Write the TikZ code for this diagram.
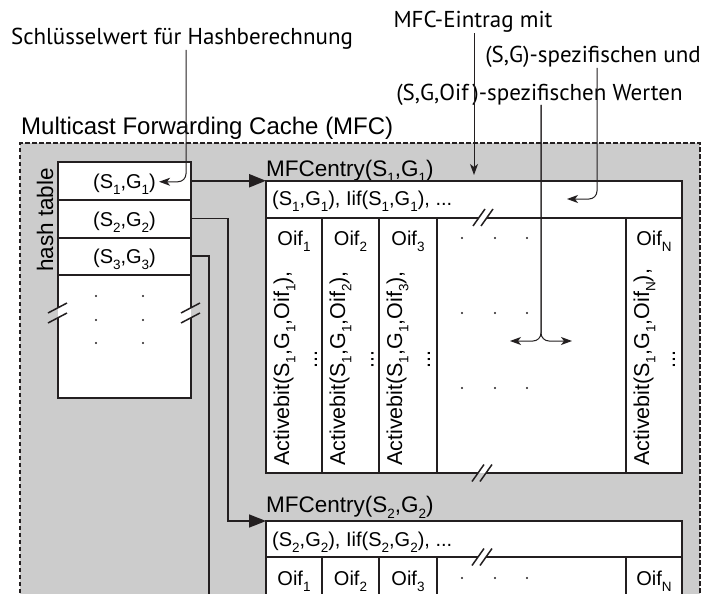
\documentclass[tikz,border=0pt]{standalone}
\usepackage{fontspec}
\setmainfont{Liberation Sans}
\newfontfamily\annfont{PT Sans}
\usetikzlibrary{arrows.meta}
\definecolor{ln}{HTML}{231F20}
\definecolor{bgc}{HTML}{CCCCCC}
\newcommand\sbs[1]{\raisebox{-0.3em}{\fontsize{13.5}{13.5}\selectfont #1}}
\newcommand\brkh[2]{%
  \draw[brk] (#1-10,#2+8.5) -- (#1+2,#2-8.5);
  \draw[brk] (#1-2,#2+8.5) -- (#1+10,#2-8.5);}
\newcommand\brkv[2]{%
  \draw[brk] (#1-9.5,#2) -- (#1+9.5,#2-10);
  \draw[brk] (#1-9.5,#2+10) -- (#1+9.5,#2);}
\begin{document}
\begin{tikzpicture}[x=1pt,y=-1pt,
  edge/.style={draw=ln, line width=2pt},
  box/.style={draw=ln, line width=2pt, fill=white, inner sep=0pt, outer sep=0pt, anchor=north west},
  panel/.style={fill=white, inner sep=0pt, outer sep=0pt, anchor=north west},
  txt/.style={inner sep=0pt, font=\fontsize{20}{24}\selectfont},
  big/.style={inner sep=0pt, font=\fontsize{22.5}{27}\selectfont},
  ann/.style={inner sep=0pt, font=\annfont\fontsize{23}{27}\selectfont},
  conn/.style={draw=ln, line width=1.7pt},
  bigarrow/.style={-{Triangle[length=17pt,width=13pt]}},
  thin/.style={draw=ln, line width=1pt},
  thinarrow/.style={-{Stealth[length=11pt,width=8pt,inset=3pt]}},
  brk/.style={draw=ln, line width=1.5pt},
  rot/.style={inner sep=0pt, font=\fontsize{21.5}{25}\selectfont, rotate=90, anchor=base west},
  dot/.style={fill=ln}
]
\useasboundingbox (0,0) rectangle (710,594);
\clip (0,0) rectangle (710,594);
% MFC area
\fill[bgc] (20,143) rectangle (700,600);
\draw[ln, line width=2.3pt, dash pattern=on 4.5pt off 2.5pt] (20,600) -- (20,143) -- (700,143) -- (700,600);
\node[big, font=\fontsize{24}{28}\selectfont, anchor=base west] (title) at (21,135) {Multicast Forwarding Cache (MFC)};

% annotation texts
\node[ann, anchor=base] (ann1) at (182,45) {Schlüsselwert für Hashberechnung};
\node[ann, anchor=base] (ann2) at (473,28) {MFC-Eintrag mit};
\node[ann, anchor=base] (ann3) at (593,63) {(S,G)-spezifischen und};
\node[ann, anchor=base] (ann4) at (539.5,100) {(S,G,Oif\,)-spezifischen Werten};

% hash table
\node[big, rotate=90, anchor=base west] (htl) at (53,272) {hash table};
\node[panel, minimum width=133pt, minimum height=123.5pt] (hrest) at (58,274.5) {};
\node[box, minimum width=133pt, minimum height=37.5pt] (h1) at (58,162) {};
\node[box, minimum width=133pt, minimum height=38pt] (h2) at (58,199.5) {};
\node[box, minimum width=133pt, minimum height=37pt] (h3) at (58,237.5) {};
\draw[edge] (hrest.north west) -- (58,308);
\draw[edge] (58,318) |- (hrest.south east) -- (191,318);
\draw[edge] (191,308) -- (hrest.north east);
\brkv{57.5}{313}
\brkv{190.5}{313}
\node[txt, anchor=base, inner sep=3pt] (h1t) at (124.5,188) {(S\sbs{1},G\sbs{1})};
\node[txt, anchor=base] (h2t) at (124.5,226) {(S\sbs{2},G\sbs{2})};
\node[txt, anchor=base] (h3t) at (124.5,263) {(S\sbs{3},G\sbs{3})};
\foreach \x in {96,143}
  \foreach \y in {296,320,343}
    \fill[dot] (\x,\y) circle (1.1pt);

% MFC entry 1
\node[big, anchor=base west] (m1l) at (266,176) {MFCentry(S\sbs{1},G\sbs{1})};
\node[panel, minimum width=416pt, minimum height=292pt] (m1) at (266,181) {};
\draw[edge] (478,473) -- (m1.south west) -- (m1.north west) -- (m1.north east) -- (m1.south east) -- (486,473);
\draw[edge] (266,217.5) -- (479,217.5);
\draw[edge] (487,217.5) -- (682,217.5);
\foreach \x in {322,379,437,626}
  \draw[edge] (\x,217.5) -- (\x,473);
\brkh{483}{217.5}
\brkh{482}{473}
\node[txt, anchor=base west] (m1h) at (272,205) {(S\sbs{1},G\sbs{1}), Iif(S\sbs{1},G\sbs{1}), ...};
\node[txt, anchor=base] (m1o1) at (294,245) {Oif\sbs{1}};
\node[txt, anchor=base] (m1o2) at (350.5,245) {Oif\sbs{2}};
\node[txt, anchor=base] (m1o3) at (408,245) {Oif\sbs{3}};
\node[txt, anchor=base] (m1oN) at (654,245) {Oif\sbs{N}};
\node[rot] (m1a1) at (289,466) {Activebit(S\sbs{1},G\sbs{1},Oif\sbs{1}),};
\node[rot] (m1a2) at (345,466) {Activebit(S\sbs{1},G\sbs{1},Oif\sbs{2}),};
\node[rot] (m1a3) at (402,466) {Activebit(S\sbs{1},G\sbs{1},Oif\sbs{3}),};
\node[rot] (m1aN) at (649,466) {Activebit(S\sbs{1},G\sbs{1},Oif\sbs{N}),};
\node[rot] (m1d1) at (317,369) {...};
\node[rot] (m1d2) at (373.5,369) {...};
\node[rot] (m1d3) at (430,369) {...};
\node[rot] (m1dN) at (675,369) {...};
\foreach \x in {462,495,527}
  \foreach \y in {238,313,388}
    \fill[dot] (\x,\y) circle (1.1pt);

% MFC entry 2
\node[big, anchor=base west] (m2l) at (266,512) {MFCentry(S\sbs{2},G\sbs{2})};
\node[panel, minimum width=416pt, minimum height=80pt] (m2) at (266,521) {};
\draw[edge] (m2.south west) -- (m2.north west) -- (m2.north east) -- (m2.south east);
\draw[edge] (266,557) -- (478,557);
\draw[edge] (486,557) -- (682,557);
\foreach \x in {322,379,437,626}
  \draw[edge] (\x,557) -- (\x,601);
\brkh{482}{557}
\node[txt, anchor=base west] (m2h) at (272,546) {(S\sbs{2},G\sbs{2}), Iif(S\sbs{2},G\sbs{2}), ...};
\node[txt, anchor=base] (m2o1) at (294,585) {Oif\sbs{1}};
\node[txt, anchor=base] (m2o2) at (350.5,585) {Oif\sbs{2}};
\node[txt, anchor=base] (m2o3) at (408,585) {Oif\sbs{3}};
\node[txt, anchor=base] (m2oN) at (654,585) {Oif\sbs{N}};
\foreach \x in {462,495,527}
  \fill[dot] (\x,578) circle (1.1pt);

% connectors from hash table
\coordinate (h3end) at (209,602);
\draw[conn, line width=2.3pt, bigarrow] (h1.east) -- (h1.east -| m1.west);
\draw[conn, bigarrow] (h2.east) -- ++(37,0) |- (m2.north west);
\draw[conn] (h3.east) -| (h3end);

% annotation connectors
\coordinate (k1) at (186,50);
\draw[thin, thinarrow, rounded corners=8pt] (k1) |- ([yshift=2pt]h1t.east);
\coordinate (e2) at (474,175);
\draw[thin, thinarrow] (ann2.south -| e2) -- (e2);
\coordinate (s3) at (597,68);
\coordinate (e3) at (567,199);
\draw[thin, thinarrow, rounded corners=8pt] (s3) |- (e3);
\coordinate (s4) at (541,105);
\coordinate (e4l) at (510,341);
\coordinate (e4r) at (572,341);
\draw[thin, thinarrow, rounded corners=8pt] (s4) |- (e4l);
\draw[thin, thinarrow, rounded corners=8pt] (s4) |- (e4r);
\end{tikzpicture}
\end{document}
